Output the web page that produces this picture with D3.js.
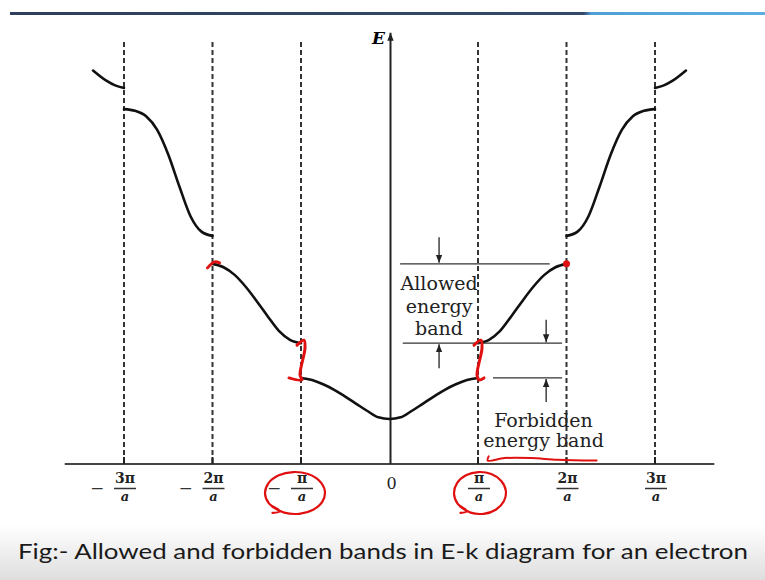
<!DOCTYPE html>
<html lang="en">
<head>
<meta charset="UTF-8">
<title>Allowed and forbidden bands in E-k diagram</title>
<style>
    body { margin: 0; padding: 0; background: #fff; }
    svg { display: block; }
    .serif { font-family: "DejaVu Serif", "Liberation Serif", serif; }
</style>
</head>
<body>
<script src="https://d3js.org/d3.v7.min.js"></script>
<script>
var width = 765, height = 580;

// zone boundaries, in units of pi/a
var zoneK = [-3, -2, -1, 1, 2, 3];

// k-axis tick labels
var tickK    = [-3, -2, -1, 0, 1, 2, 3];
var tickSign = ["−", "−", "−", "", "", "", ""];
var tickNum  = ["3π", "2π", "π", "0", "π", "2π", "3π"];
var tickDen  = ["a", "a", "a", "", "a", "a", "a"];

// right half of each band (k in pi/a, E in arbitrary units); left half is the mirror
var band1K = [0, 0.125, 0.25, 0.375, 0.5, 0.625, 0.75, 0.875, 1];
var band1E = [1.06, 1.10, 1.25, 1.42, 1.59, 1.75, 1.88, 1.98, 2.03];
var band2K = [1, 1.125, 1.25, 1.375, 1.5, 1.625, 1.75, 1.875, 2];
var band2E = [2.85, 2.93, 3.14, 3.48, 3.84, 4.18, 4.46, 4.64, 4.72];
var band3K = [2, 2.125, 2.25, 2.375, 2.5, 2.625, 2.75, 2.875, 3];
var band3E = [5.38, 5.48, 5.85, 6.55, 7.30, 7.88, 8.20, 8.33, 8.37];
var band4K = [3, 3.1, 3.2, 3.35];
var band4E = [8.87, 8.93, 9.04, 9.28];

var allowedLines = ["Allowed", "energy", "band"];
var forbiddenLines = ["Forbidden", "energy band"];
var caption = "Fig:- Allowed and forbidden bands in E-k diagram for an electron";

var x = d3.scaleLinear().domain([-3, 3]).range([124, 655]);
var y = d3.scaleLinear().domain([0, 10]).range([464, 40]);

var svg = d3.select("body").append("svg")
    .attr("width", width)
    .attr("height", height);

var defs = svg.append("defs");
var grad = defs.append("linearGradient").attr("id", "capgrad")
    .attr("x1", 0).attr("y1", 0).attr("x2", 0).attr("y2", 1);
grad.append("stop").attr("offset", "0%").attr("stop-color", "#ffffff");
grad.append("stop").attr("offset", "100%").attr("stop-color", "#dedede");

var bar = defs.append("linearGradient").attr("id", "bargrad");
bar.append("stop").attr("offset", "0%").attr("stop-color", "#2d3f5c");
bar.append("stop").attr("offset", "76%").attr("stop-color", "#34496a");
bar.append("stop").attr("offset", "77%").attr("stop-color", "#4f9fd6");
bar.append("stop").attr("offset", "100%").attr("stop-color", "#5aaee0");

defs.append("marker").attr("id", "ah")
    .attr("viewBox", "0 0 10 10").attr("refX", 10).attr("refY", 5)
    .attr("markerWidth", 8).attr("markerHeight", 8)
    .attr("markerUnits", "userSpaceOnUse")
    .attr("orient", "auto")
    .append("path").attr("d", "M0,1 L10,5 L0,9 Z").attr("fill", "#222");

// slide header bar
svg.append("rect").attr("x", 10).attr("y", 12).attr("width", 755).attr("height", 3)
    .attr("fill", "url(#bargrad)");

// caption strip
svg.append("rect").attr("x", 0).attr("y", 525).attr("width", width).attr("height", 55)
    .attr("fill", "url(#capgrad)");

// zone boundaries
svg.selectAll(".zone").data(zoneK).enter().append("line")
    .attr("class", "zone")
    .attr("x1", d => x(d)).attr("x2", d => x(d))
    .attr("y1", y(9.95)).attr("y2", y(0))
    .attr("stroke", "#333").attr("stroke-width", 2)
    .attr("stroke-dasharray", "5,3");

// k axis
svg.append("line")
    .attr("x1", x(-3.67)).attr("x2", x(3.67))
    .attr("y1", y(0)).attr("y2", y(0))
    .attr("stroke", "#444").attr("stroke-width", 2);

svg.selectAll(".tk").data(zoneK).enter().append("line")
    .attr("x1", d => x(d)).attr("x2", d => x(d))
    .attr("y1", y(0)).attr("y2", y(0) - 7)
    .attr("stroke", "#222").attr("stroke-width", 2);

// E axis
svg.append("line")
    .attr("x1", x(0) + 1).attr("x2", x(0) + 1)
    .attr("y1", y(0)).attr("y2", y(10.17))
    .attr("stroke", "#222").attr("stroke-width", 2)
    .attr("marker-end", "url(#ah)");

svg.append("text").attr("class", "serif")
    .attr("x", x(0) - 11).attr("y", y(9.9))
    .attr("text-anchor", "middle")
    .attr("font-size", 17).attr("font-weight", "bold").attr("font-style", "italic")
    .text("E");

// bands
var line = d3.line().x(d => x(d[0])).y(d => y(d[1])).curve(d3.curveMonotoneX);

function half(ks, es) {
    return ks.map((k, i) => [k, es[i]]);
}
function mirror(pts) {
    return pts.map(p => [-p[0], p[1]]).reverse();
}

var b1 = half(band1K, band1E);
var pieces = [
    mirror(b1).concat(b1.slice(1)),
    half(band2K, band2E), mirror(half(band2K, band2E)),
    half(band3K, band3E), mirror(half(band3K, band3E)),
    half(band4K, band4E), mirror(half(band4K, band4E))
];

svg.selectAll(".band").data(pieces).enter().append("path")
    .attr("class", "band")
    .attr("d", line)
    .attr("fill", "none")
    .attr("stroke", "#111")
    .attr("stroke-width", 2.6)
    .attr("stroke-linecap", "round");

// band-edge reference lines with arrows
var eTop2 = band2E[band2E.length - 1], eBot2 = band2E[0], eTop1 = band1E[band1E.length - 1];
var refLines = [
    { e: eTop2, k0: 0.12, k1: 1.81 },
    { e: eBot2, k0: 0.15, k1: 1.95 },
    { e: eTop1, k0: 1.17, k1: 1.95 }
];
svg.selectAll(".ref").data(refLines).enter().append("line")
    .attr("x1", d => x(d.k0)).attr("x2", d => x(d.k1))
    .attr("y1", d => y(d.e)).attr("y2", d => y(d.e))
    .attr("stroke", "#333").attr("stroke-width", 1.3);

var arrows = [
    { k: 0.56, from: 5.35, to: eTop2 },
    { k: 0.56, from: 2.26, to: eBot2 },
    { k: 1.77, from: 3.40, to: eBot2 },
    { k: 1.77, from: 1.46, to: eTop1 }
];
svg.selectAll(".arr").data(arrows).enter().append("line")
    .attr("x1", d => x(d.k)).attr("x2", d => x(d.k))
    .attr("y1", d => y(d.from)).attr("y2", d => y(d.to) + (d.from > d.to ? -1 : 1))
    .attr("stroke", "#222").attr("stroke-width", 1.3)
    .attr("marker-end", "url(#ah)");

// labels
svg.selectAll(".al").data(allowedLines).enter().append("text")
    .attr("class", "serif")
    .attr("x", x(0.56))
    .attr("y", (d, i) => y(4.10) + i * 22.5)
    .attr("text-anchor", "middle")
    .attr("font-size", 19)
    .attr("fill", "#222")
    .text(d => d);

svg.selectAll(".fb").data(forbiddenLines).enter().append("text")
    .attr("class", "serif")
    .attr("x", x(1.74))
    .attr("y", (d, i) => y(0.87) + i * 20)
    .attr("text-anchor", "middle")
    .attr("font-size", 19)
    .attr("fill", "#222")
    .text(d => d);

// tick labels (fractions)
var tl = svg.selectAll(".tl").data(tickK).enter().append("g")
    .attr("transform", d => "translate(" + x(d) + "," + y(0) + ")");

tl.each(function (k, i) {
    var g = d3.select(this);
    if (tickNum[i] === "0") {
        g.append("text").attr("class", "serif")
            .attr("x", 2).attr("y", 25)
            .attr("text-anchor", "middle")
            .attr("font-size", 16).attr("fill", "#222")
            .text("0");
        return;
    }
    g.append("text").attr("class", "serif")
        .attr("x", 1).attr("y", 19)
        .attr("text-anchor", "middle")
        .attr("font-size", 14).attr("font-weight", "bold").attr("fill", "#222")
        .text(tickNum[i]);
    g.append("line")
        .attr("x1", -10).attr("x2", 12)
        .attr("y1", 24.5).attr("y2", 24.5)
        .attr("stroke", "#333").attr("stroke-width", 1.5);
    g.append("text").attr("class", "serif")
        .attr("x", 1).attr("y", 37)
        .attr("text-anchor", "middle")
        .attr("font-size", 13).attr("font-weight", "bold").attr("font-style", "italic")
        .attr("fill", "#222")
        .text(tickDen[i]);
    if (tickSign[i]) {
        g.append("text").attr("class", "serif")
            .attr("x", -27).attr("y", 30)
            .attr("text-anchor", "middle")
            .attr("font-size", 17).attr("fill", "#333")
            .text(tickSign[i]);
    }
});

// red hand-drawn marks
var red = "#e01010";
var redLine = d3.line().curve(d3.curveCatmullRom);

// circles round -pi/a and pi/a
[-1, 1].forEach(function (k) {
    var cx = x(k) + (k < 0 ? -6 : 2), cy = y(0) + 29, rx = k < 0 ? 30 : 26, ry = 21;
    var pts = d3.range(0, 14).map(function (j) {
        var a = 2.1 + j * (2 * Math.PI + 0.35) / 13;
        return [cx + rx * Math.cos(a), cy + ry * Math.sin(a)];
    });
    pts.unshift([cx - rx * 0.75, cy + ry * 0.95]);
    svg.append("path").attr("d", redLine(pts))
        .attr("fill", "none").attr("stroke", red).attr("stroke-width", 2.2)
        .attr("stroke-linecap", "round");
});

// underline beneath "energy band"
svg.append("path")
    .attr("d", redLine([[x(1.12), y(0.18)], [x(1.11), y(0.08)], [x(1.3), y(0.14)],
        [x(1.6), y(0.14)], [x(1.9), y(0.1)], [x(2.34), y(0.08)]]))
    .attr("fill", "none").attr("stroke", red).attr("stroke-width", 2)
    .attr("stroke-linecap", "round");

// squiggles across the gap at the zone edge +-pi/a
[-1, 1].forEach(function (k) {
    var xe = x(k);
    var pts = [[xe - 4, y(eBot2) + 2], [xe + 3, y(eBot2) - 3], [xe + 4, y(eBot2) + 5],
        [xe - 1, y(eTop1) - 3], [xe + 1, y(eTop1) + 2], [xe + (k < 0 ? -12 : 6), y(eTop1)]];
    svg.append("path").attr("d", redLine(pts))
        .attr("fill", "none").attr("stroke", red).attr("stroke-width", 3)
        .attr("stroke-linecap", "round").attr("stroke-linejoin", "round");
});

// dots at the top of band 2
svg.append("path")
    .attr("d", redLine([[x(-2) - 5, y(eTop2) + 4], [x(-2) + 2, y(eTop2) - 2], [x(-2) + 7, y(eTop2) - 1]]))
    .attr("fill", "none").attr("stroke", red).attr("stroke-width", 3).attr("stroke-linecap", "round");
svg.append("circle").attr("cx", x(2)).attr("cy", y(eTop2)).attr("r", 3.5).attr("fill", red);

// caption
svg.append("text")
    .attr("x", 18).attr("y", 559)
    .attr("font-family", "Lato, 'Open Sans', sans-serif")
    .attr("font-size", 21)
    .attr("fill", "#1a1a1a")
    .attr("textLength", 730)
    .attr("lengthAdjust", "spacingAndGlyphs")
    .text(caption);
</script>
</body>
</html>
